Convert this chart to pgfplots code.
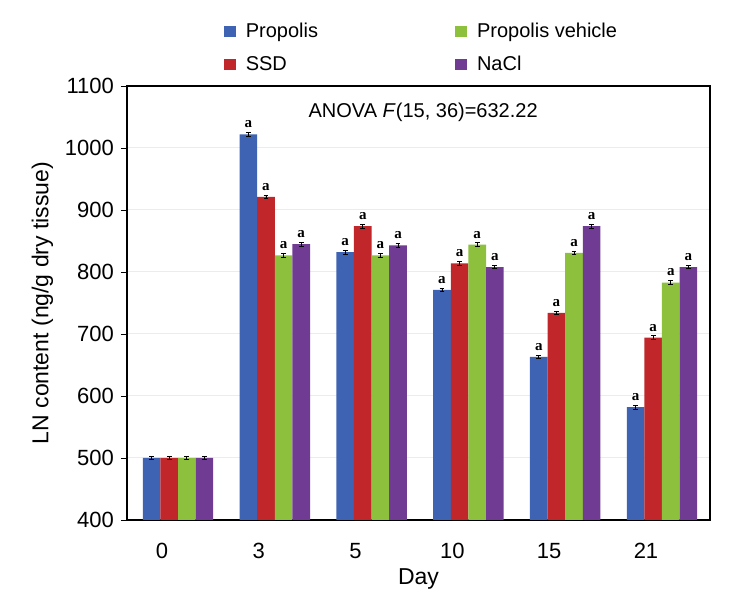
\documentclass[border=0pt]{standalone}
\usepackage{pgfplots}
\pgfplotsset{compat=1.18}
\usepackage{pgfplotstable}
\usepackage{fontspec}
\setmainfont{Liberation Sans}
\newfontfamily\serifb{Liberation Serif}
\definecolor{cBlue}{HTML}{3F63B3}
\definecolor{cRed}{HTML}{C0262A}
\definecolor{cGreen}{HTML}{8CC03D}
\definecolor{cPurple}{HTML}{703B93}
\pgfplotstableread{
x y e lab
0 500 3 {}
1 1022 3 a
2 832 3 a
3 771 3 a
4 663 3 a
5 582 3 a
}\tprop
\pgfplotstableread{
x y e lab
0 500 3 {}
1 921 3 a
2 874 3 a
3 814 3 a
4 734 3 a
5 694 3 a
}\tssd
\pgfplotstableread{
x y e lab
0 500 3 {}
1 827 3 a
2 827 3 a
3 844 3 a
4 831 3 a
5 783 3 a
}\tveh
\pgfplotstableread{
x y e lab
0 500 3 {}
1 845 3 a
2 843 3 a
3 808 3 a
4 874 3 a
5 808 3 a
}\tnacl
\begin{document}
\begin{tikzpicture}
\useasboundingbox (-63.5pt,-36.5pt) rectangle (309.5pt,260pt);
\begin{axis}[
  at={(0,0)}, anchor=south west,
  scale only axis, width=291.5pt, height=217pt,
  ybar, bar width=0.182,
  xmin=-0.527, xmax=5.496,
  ymin=400, ymax=1100, ytick={400,500,...,1100},
  xtick={0,1,2,3,4,5}, xticklabels={0,3,5,10,15,21},
  xtick style={draw=none},
  ytick pos=left,
  ytick style={black, thin}, tick align=outside, major tick length=3pt,
  ymajorgrids, grid style={gray!15, line width=0.5pt},
  axis line style={black, line width=0.9pt},
  ticklabel style={font=\fontsize{11}{13}\selectfont},
  xticklabel style={xshift=-8pt, yshift=-5pt},
  /pgf/number format/assume math mode=true,
  /pgf/number format/1000 sep={},
  xlabel={Day}, ylabel={LN content (ng/g dry tissue)},
  label style={font=\fontsize{11.5}{14}\selectfont},
  xlabel style={yshift=2pt},
  ylabel style={yshift=-1pt},
  point meta=explicit symbolic,
  nodes near coords={\serifb\bfseries\pgfplotspointmeta},
  every node near coord/.append style={black, font=\fontsize{7.5}{8}\selectfont, inner sep=1pt, yshift=2pt},
  error bars/y dir=both, error bars/y explicit,
  error bars/error bar style={black, line width=0.4pt},
  error bars/error mark options={rotate=90, mark size=1.2pt, black, line width=0.4pt},
  legend columns=2, transpose legend,
  legend style={draw=none, fill=none, at={(0.155,1.165)}, anchor=north west,
    font=\fontsize{10}{12}\selectfont, row sep=4pt, cells={anchor=west},
    /tikz/every even column/.append style={column sep=66.5pt},
    /tikz/every odd column/.append style={column sep=3pt}},
  legend image code/.code={\fill[#1, draw=none] (0pt,-2.5pt) rectangle (6pt,3pt);},
]
\addplot+[fill=cBlue, draw=none, bar shift=-0.273] table[x=x,y=y,y error=e,meta=lab]{\tprop};
\addplot+[fill=cRed, draw=none, bar shift=-0.091] table[x=x,y=y,y error=e,meta=lab]{\tssd};
\addplot+[fill=cGreen, draw=none, bar shift=0.091] table[x=x,y=y,y error=e,meta=lab]{\tveh};
\addplot+[fill=cPurple, draw=none, bar shift=0.273] table[x=x,y=y,y error=e,meta=lab]{\tnacl};
\legend{Propolis, SSD, Propolis vehicle, NaCl}
\node[font=\fontsize{10}{12}\selectfont] at (rel axis cs:0.508,0.94) {ANOVA \textit{F}(15, 36)=632.22};
\end{axis}
\end{tikzpicture}
\end{document}
